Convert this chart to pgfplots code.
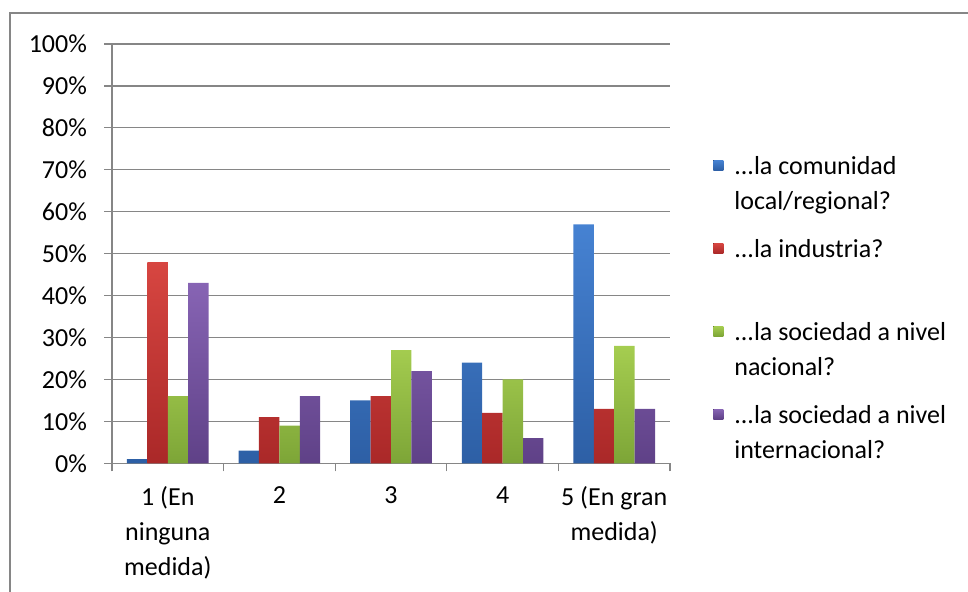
\documentclass[border=0pt]{standalone}
\usepackage{pgfplots}
\pgfplotsset{compat=1.18}
\usepackage{fontspec}
\setmainfont{Carlito}

\definecolor{gridgray}{RGB}{134,134,134}
\definecolor{blueT}{RGB}{70,130,210}
\definecolor{blueB}{RGB}{45,95,165}
\definecolor{redT}{RGB}{215,70,65}
\definecolor{redB}{RGB}{170,40,40}
\definecolor{greenT}{RGB}{165,205,80}
\definecolor{greenB}{RGB}{125,165,55}
\definecolor{purpT}{RGB}{135,100,180}
\definecolor{purpB}{RGB}{95,65,135}

\newcommand{\entry}[1]{\parbox[b][35.75pt][t]{120pt}{\strut #1}}

\begin{document}
\begin{tikzpicture}
% 1px of the reference = 0.5pt
\useasboundingbox (0,0) rectangle (484pt,296pt);
\draw[gridgray, line width=1pt] (5pt,0) -- (5pt,289.5pt) -- (484pt,289.5pt);
\begin{axis}[
    at={(56pt,64.35pt)}, anchor=south west,
    scale only axis,
    width=279pt, height=209.65pt,
    ybar=0pt, bar width=0.183,
    xmin=0.5, xmax=5.5,
    ymin=0, ymax=100,
    axis lines*=left,
    axis line style={gridgray, line width=0.6pt},
    ymajorgrids, xmajorgrids=false,
    grid style={gridgray, line width=0.6pt},
    ytick={0,10,...,100},
    yticklabel={\pgfmathprintnumber{\tick}\%},
    /pgf/number format/assume math mode=true,
    tick align=outside,
    major tick length=4pt,
    tick style={gridgray, line width=0.6pt},
    xtick={0.5,1.5,...,5.5},
    xticklabels={},
    extra x ticks={1,2,3,4,5},
    extra x tick labels={{1 (En\\ninguna\\medida)},2,3,4,{5 (En gran\\medida)}},
    extra x tick style={major tick length=0pt, grid=none,
        tick label style={align=center, yshift=-8pt, font=\fontsize{13}{17.5}\selectfont}},
    tick label style={font=\fontsize{13}{17.5}\selectfont},
    yticklabel style={xshift=-5pt},
    legend image code/.code={\fill[#1] (0pt,-12.25pt) rectangle (5pt,-7.25pt);},
    legend style={at={(1.077,0.758)}, anchor=north west, draw=none,
        inner sep=0pt, row sep=0pt, column sep=3.5pt,
        cells={anchor=north west, inner sep=0pt},
        font=\fontsize{13}{17.5}\selectfont},
]
\addplot[draw=none, top color=blueT, bottom color=blueB] coordinates {(1,1) (2,3) (3,15) (4,24) (5,57)};
\addlegendentry{\entry{...la comunidad\\local/regional?}}
\addplot[draw=none, top color=redT, bottom color=redB] coordinates {(1,48) (2,11) (3,16) (4,12) (5,13)};
\addlegendentry{\entry{...la industria?}}
\addplot[draw=none, top color=greenT, bottom color=greenB] coordinates {(1,16) (2,9) (3,27) (4,20) (5,28)};
\addlegendentry{\entry{...la sociedad a nivel\\nacional?}}
\addplot[draw=none, top color=purpT, bottom color=purpB] coordinates {(1,43) (2,16) (3,22) (4,6) (5,13)};
\addlegendentry{\entry{...la sociedad a nivel\\internacional?}}
\end{axis}
\end{tikzpicture}
\end{document}
